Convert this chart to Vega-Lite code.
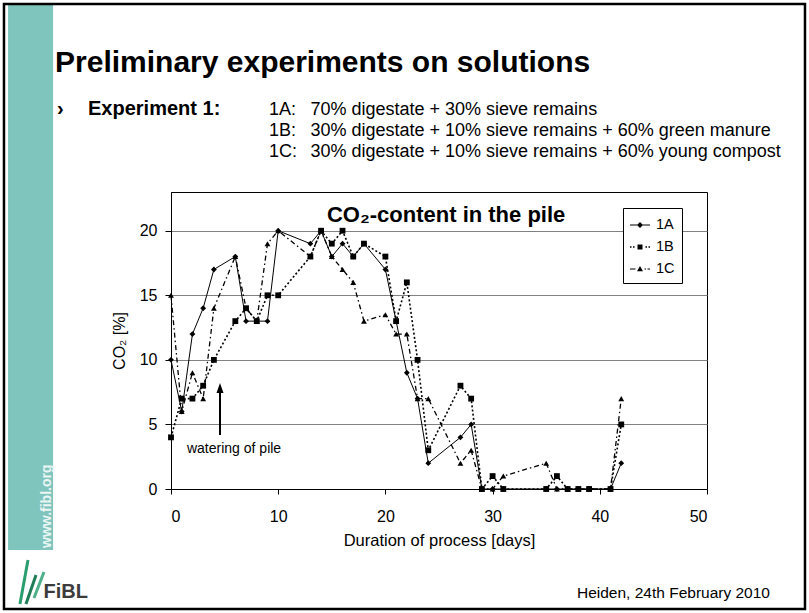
{
"$schema": "https://vega.github.io/schema/vega-lite/v6.json",
"width": 536, "height": 297,
"autosize": {"type": "none"},
"padding": {"left": 171, "top": 192, "right": 102, "bottom": 124},
"background": "white",
"data": {"name": "co2"},
"datasets": {"co2": [
{"series":"1A","day":0,"co2":10},{"series":"1A","day":1,"co2":6},{"series":"1A","day":2,"co2":12},{"series":"1A","day":3,"co2":14},{"series":"1A","day":4,"co2":17},{"series":"1A","day":6,"co2":18},{"series":"1A","day":7,"co2":13},{"series":"1A","day":8,"co2":13},{"series":"1A","day":9,"co2":13},{"series":"1A","day":10,"co2":20},{"series":"1A","day":13,"co2":19},{"series":"1A","day":14,"co2":20},{"series":"1A","day":15,"co2":18},{"series":"1A","day":16,"co2":19},{"series":"1A","day":17,"co2":18},{"series":"1A","day":18,"co2":19},{"series":"1A","day":20,"co2":17},{"series":"1A","day":21,"co2":13},{"series":"1A","day":22,"co2":9},{"series":"1A","day":23,"co2":7},{"series":"1A","day":24,"co2":2},{"series":"1A","day":27,"co2":4},{"series":"1A","day":28,"co2":5},{"series":"1A","day":29,"co2":0},{"series":"1A","day":30,"co2":0},{"series":"1A","day":31,"co2":0},{"series":"1A","day":35,"co2":0},{"series":"1A","day":36,"co2":0},{"series":"1A","day":37,"co2":0},{"series":"1A","day":38,"co2":0},{"series":"1A","day":39,"co2":0},{"series":"1A","day":41,"co2":0},{"series":"1A","day":42,"co2":2},
{"series":"1B","day":0,"co2":4},{"series":"1B","day":1,"co2":7},{"series":"1B","day":2,"co2":7},{"series":"1B","day":3,"co2":8},{"series":"1B","day":4,"co2":10},{"series":"1B","day":6,"co2":13},{"series":"1B","day":7,"co2":14},{"series":"1B","day":8,"co2":13},{"series":"1B","day":9,"co2":15},{"series":"1B","day":10,"co2":15},{"series":"1B","day":13,"co2":18},{"series":"1B","day":14,"co2":20},{"series":"1B","day":15,"co2":19},{"series":"1B","day":16,"co2":20},{"series":"1B","day":17,"co2":18},{"series":"1B","day":18,"co2":19},{"series":"1B","day":20,"co2":18},{"series":"1B","day":21,"co2":13},{"series":"1B","day":22,"co2":16},{"series":"1B","day":23,"co2":10},{"series":"1B","day":24,"co2":3},{"series":"1B","day":27,"co2":8},{"series":"1B","day":28,"co2":7},{"series":"1B","day":29,"co2":0},{"series":"1B","day":30,"co2":1},{"series":"1B","day":31,"co2":0},{"series":"1B","day":35,"co2":0},{"series":"1B","day":36,"co2":1},{"series":"1B","day":37,"co2":0},{"series":"1B","day":38,"co2":0},{"series":"1B","day":39,"co2":0},{"series":"1B","day":41,"co2":0},{"series":"1B","day":42,"co2":5},
{"series":"1C","day":0,"co2":15},{"series":"1C","day":1,"co2":6},{"series":"1C","day":2,"co2":9},{"series":"1C","day":3,"co2":7},{"series":"1C","day":4,"co2":14},{"series":"1C","day":6,"co2":18},{"series":"1C","day":7,"co2":14},{"series":"1C","day":8,"co2":13},{"series":"1C","day":9,"co2":19},{"series":"1C","day":10,"co2":20},{"series":"1C","day":13,"co2":18},{"series":"1C","day":14,"co2":20},{"series":"1C","day":15,"co2":18},{"series":"1C","day":16,"co2":17},{"series":"1C","day":17,"co2":16},{"series":"1C","day":18,"co2":13},{"series":"1C","day":20,"co2":13.5},{"series":"1C","day":21,"co2":12},{"series":"1C","day":22,"co2":12},{"series":"1C","day":23,"co2":7},{"series":"1C","day":24,"co2":7},{"series":"1C","day":27,"co2":2},{"series":"1C","day":28,"co2":3},{"series":"1C","day":29,"co2":0},{"series":"1C","day":30,"co2":0},{"series":"1C","day":31,"co2":1},{"series":"1C","day":35,"co2":2},{"series":"1C","day":36,"co2":0},{"series":"1C","day":37,"co2":0},{"series":"1C","day":38,"co2":0},{"series":"1C","day":39,"co2":0},{"series":"1C","day":41,"co2":0},{"series":"1C","day":42,"co2":7}
]},
"layer": [
{"data": {"values": [{}]}, "mark": {"type": "rect", "color": "#7fc4bd"},
 "encoding": {"x": {"datum": -15.2, "type": "quantitative", "scale": {"domain": [0, 50]}}, "x2": {"datum": -11.0},
  "y": {"datum": 37.5, "type": "quantitative", "scale": {"domain": [0, 23], "nice": false}}, "y2": {"datum": -4.72}}},
{"data": {"values": [{}]}, "mark": {"type": "rect", "fillOpacity": 0, "stroke": "black", "strokeWidth": 2.5},
 "encoding": {"x": {"datum": -15.58, "type": "quantitative", "scale": {"domain": [0, 50]}}, "x2": {"datum": 59.14},
  "y": {"datum": 37.56, "type": "quantitative", "scale": {"domain": [0, 23], "nice": false}}, "y2": {"datum": -9.29}}},
{"data": {"values": [{}]}, "mark": {"type": "text", "font": "Liberation Sans", "fontSize": 14, "fontWeight": "bold", "color": "#eaf6f4", "angle": 270, "align": "left", "baseline": "middle"},
 "encoding": {"x": {"datum": -11.57, "type": "quantitative", "scale": {"domain": [0, 50]}},
  "y": {"datum": -4.57, "type": "quantitative", "scale": {"domain": [0, 23], "nice": false}}, "text": {"value": "www.fibl.org"}}},
{"data": {"values": [{}]}, "mark": {"type": "text", "font": "Liberation Sans", "fontSize": 30, "fontWeight": "bold", "color": "black", "align": "left", "baseline": "alphabetic"},
 "encoding": {"x": {"datum": -10.82, "type": "quantitative", "scale": {"domain": [0, 50]}},
  "y": {"datum": 32.29, "type": "quantitative", "scale": {"domain": [0, 23], "nice": false}}, "text": {"value": "Preliminary experiments on solutions"}}},
{"data": {"values": [{}]}, "mark": {"type": "text", "font": "Liberation Sans", "fontSize": 20, "fontWeight": "bold", "color": "black", "align": "left", "baseline": "alphabetic"},
 "encoding": {"x": {"datum": -10.63, "type": "quantitative", "scale": {"domain": [0, 50]}},
  "y": {"datum": 28.96, "type": "quantitative", "scale": {"domain": [0, 23], "nice": false}}, "text": {"value": "›"}}},
{"data": {"values": [{}]}, "mark": {"type": "text", "font": "Liberation Sans", "fontSize": 20, "fontWeight": "bold", "color": "black", "align": "left", "baseline": "alphabetic"},
 "encoding": {"x": {"datum": -7.74, "type": "quantitative", "scale": {"domain": [0, 50]}},
  "y": {"datum": 28.96, "type": "quantitative", "scale": {"domain": [0, 23], "nice": false}}, "text": {"value": "Experiment 1:"}}},
{"data": {"values": [{}]}, "mark": {"type": "text", "font": "Liberation Sans", "fontSize": 18, "color": "black", "align": "left", "baseline": "alphabetic", "lineHeight": 21},
 "encoding": {"x": {"datum": 9.14, "type": "quantitative", "scale": {"domain": [0, 50]}},
  "y": {"datum": 28.96, "type": "quantitative", "scale": {"domain": [0, 23], "nice": false}}, "text": {"value": ["1A:", "1B:", "1C:"]}}},
{"data": {"values": [{}]}, "mark": {"type": "text", "font": "Liberation Sans", "fontSize": 18, "color": "black", "align": "left", "baseline": "alphabetic", "lineHeight": 21},
 "encoding": {"x": {"datum": 13.01, "type": "quantitative", "scale": {"domain": [0, 50]}},
  "y": {"datum": 28.96, "type": "quantitative", "scale": {"domain": [0, 23], "nice": false}}, "text": {"value": ["70% digestate + 30% sieve remains", "30% digestate + 10% sieve remains + 60% green manure", "30% digestate + 10% sieve remains + 60% young compost"]}}},
{"data": {"values": [{}]}, "mark": {"type": "text", "font": "Liberation Sans", "fontSize": 22, "fontWeight": "bold", "color": "black", "align": "left", "baseline": "alphabetic"},
 "encoding": {"x": {"datum": 14.55, "type": "quantitative", "scale": {"domain": [0, 50]}},
  "y": {"datum": 20.68, "type": "quantitative", "scale": {"domain": [0, 23], "nice": false}}, "text": {"value": "CO₂-content in the pile"}}},
{"data": {"values": [{}]}, "mark": {"type": "text", "font": "Liberation Sans", "fontSize": 14, "color": "black", "align": "left", "baseline": "alphabetic"},
 "encoding": {"x": {"datum": 1.49, "type": "quantitative", "scale": {"domain": [0, 50]}},
  "y": {"datum": 2.79, "type": "quantitative", "scale": {"domain": [0, 23], "nice": false}}, "text": {"value": "watering of pile"}}},
{"data": {"values": [{}]}, "mark": {"type": "rule", "color": "black", "strokeWidth": 2},
 "encoding": {"x": {"datum": 4.57, "type": "quantitative", "scale": {"domain": [0, 50]}},
  "y": {"datum": 4.18, "type": "quantitative", "scale": {"domain": [0, 23], "nice": false}}, "y2": {"datum": 7.6}}},
{"data": {"values": [{}]}, "mark": {"type": "point", "shape": "M0,-1L0.7,1L-0.7,1Z", "filled": true, "color": "black", "opacity": 1, "size": 100},
 "encoding": {"x": {"datum": 4.57, "type": "quantitative", "scale": {"domain": [0, 50]}},
  "y": {"datum": 7.82, "type": "quantitative", "scale": {"domain": [0, 23], "nice": false}}}},
{"data": {"values": [{}]}, "mark": {"type": "text", "font": "Liberation Sans", "fontSize": 15.5, "color": "black", "align": "left", "baseline": "alphabetic"},
 "encoding": {"x": {"datum": 37.87, "type": "quantitative", "scale": {"domain": [0, 50]}},
  "y": {"datum": -8.44, "type": "quantitative", "scale": {"domain": [0, 23], "nice": false}}, "text": {"value": "Heiden, 24th February 2010"}}},
{"data": {"values": [{}]}, "mark": {"type": "text", "font": "Liberation Sans", "fontSize": 20, "fontWeight": "bold", "color": "#3c3c3c", "align": "left", "baseline": "alphabetic"},
 "encoding": {"x": {"datum": -11.89, "type": "quantitative", "scale": {"domain": [0, 50]}},
  "y": {"datum": -8.44, "type": "quantitative", "scale": {"domain": [0, 23], "nice": false}}, "text": {"value": "FiBL"}}},
{"data": {"values": [{}]}, "mark": {"type": "rule", "color": "#2a9d6e", "strokeWidth": 3},
 "encoding": {"x": {"datum": -14.09, "type": "quantitative", "scale": {"domain": [0, 50]}}, "x2": {"datum": -13.34},
  "y": {"datum": -8.91, "type": "quantitative", "scale": {"domain": [0, 23], "nice": false}}, "y2": {"datum": -5.5}}},
{"data": {"values": [{}]}, "mark": {"type": "rule", "color": "#1e7d57", "strokeWidth": 3},
 "encoding": {"x": {"datum": -13.53, "type": "quantitative", "scale": {"domain": [0, 50]}}, "x2": {"datum": -12.59},
  "y": {"datum": -8.91, "type": "quantitative", "scale": {"domain": [0, 23], "nice": false}}, "y2": {"datum": -6.66}}},
{"data": {"values": [{}]}, "mark": {"type": "rule", "color": "#4fb08a", "strokeWidth": 3},
 "encoding": {"x": {"datum": -12.78, "type": "quantitative", "scale": {"domain": [0, 50]}}, "x2": {"datum": -11.85},
  "y": {"datum": -8.44, "type": "quantitative", "scale": {"domain": [0, 23], "nice": false}}, "y2": {"datum": -6.43}}},
{"transform": [{"filter": "datum.series === '1A'"}], "mark": {"type": "line", "color": "black", "strokeWidth": 1},
 "encoding": {"x": {"field": "day", "type": "quantitative", "scale": {"domain": [0, 50]}, "title": "Duration of process [days]", "axis": {"values": [0, 10, 20, 30, 40, 50]}},
  "y": {"field": "co2", "type": "quantitative", "scale": {"domain": [0, 23], "nice": false}, "title": "CO₂ [%]", "axis": {"values": [0, 5, 10, 15, 20]}}}},
{"transform": [{"filter": "datum.series === '1B'"}], "mark": {"type": "line", "color": "black", "strokeWidth": 1.6, "strokeDash": [2, 2.2]},
 "encoding": {"x": {"field": "day", "type": "quantitative", "scale": {"domain": [0, 50]}},
  "y": {"field": "co2", "type": "quantitative", "scale": {"domain": [0, 23], "nice": false}}}},
{"transform": [{"filter": "datum.series === '1C'"}], "mark": {"type": "line", "color": "black", "strokeWidth": 1.3, "strokeDash": [5, 3, 1.5, 3]},
 "encoding": {"x": {"field": "day", "type": "quantitative", "scale": {"domain": [0, 50]}},
  "y": {"field": "co2", "type": "quantitative", "scale": {"domain": [0, 23], "nice": false}}}},
{"mark": {"type": "point", "filled": true, "color": "black", "opacity": 1, "size": 34},
 "encoding": {"x": {"field": "day", "type": "quantitative", "scale": {"domain": [0, 50]}},
  "y": {"field": "co2", "type": "quantitative", "scale": {"domain": [0, 23], "nice": false}},
  "shape": {"field": "series", "type": "nominal", "scale": {"domain": ["1A", "1B", "1C"], "range": ["diamond", "square", "triangle-up"]}, "legend": null}}},
{"transform": [{"filter": "false"}], "mark": {"type": "point", "filled": true, "color": "black", "opacity": 1},
 "encoding": {"x": {"field": "day", "type": "quantitative", "scale": {"domain": [0, 50]}},
  "y": {"field": "co2", "type": "quantitative", "scale": {"domain": [0, 23], "nice": false}},
  "shape": {"field": "series", "type": "nominal",
   "scale": {"domain": ["1A", "1B", "1C"], "range": ["M-1,-0.05H1V0.05H-1ZM0,-0.3L0.3,0L0,0.3L-0.3,0Z", "M-1,-0.08H-0.85V0.08H-1ZM-0.7,-0.08H-0.55V0.08H-0.7ZM0.55,-0.08H0.7V0.08H0.55ZM0.85,-0.08H1V0.08H0.85ZM-0.25,-0.25H0.25V0.25H-0.25Z", "M-1,-0.06H-0.45V0.06H-1ZM0.45,-0.06H0.6V0.06H0.45ZM0.75,-0.06H1V0.06H0.75ZM0,-0.3L0.3,0.22L-0.3,0.22Z"]},
   "legend": {"title": null, "orient": "none", "legendX": 452, "legendY": 16, "fillColor": "white", "strokeColor": "black", "padding": 7, "symbolSize": 400, "symbolStrokeWidth": 0, "symbolFillColor": "black", "labelFont": "Liberation Sans", "labelFontSize": 14.5, "labelColor": "black", "rowPadding": 5, "labelOffset": 6}}}}
],
"resolve": {"scale": {"shape": "independent"}},
"config": {
 "font": "Liberation Sans",
 "view": {"stroke": "black", "strokeWidth": 1},
 "axisX": {"domainColor": "black", "tickColor": "black", "tickSize": 5, "labelFontSize": 16, "labelPadding": 14, "labelColor": "black", "titleFontSize": 16.5, "titleFontWeight": "normal", "titlePadding": 8, "titleColor": "black", "grid": false},
 "axisY": {"domainColor": "black", "tickColor": "black", "tickSize": 6, "labelFontSize": 16, "labelPadding": 8, "labelColor": "black", "titleFontSize": 16, "titleFontWeight": "normal", "titlePadding": 12, "titleColor": "black", "grid": true, "gridColor": "#808080", "gridOpacity": 1}
}
}
